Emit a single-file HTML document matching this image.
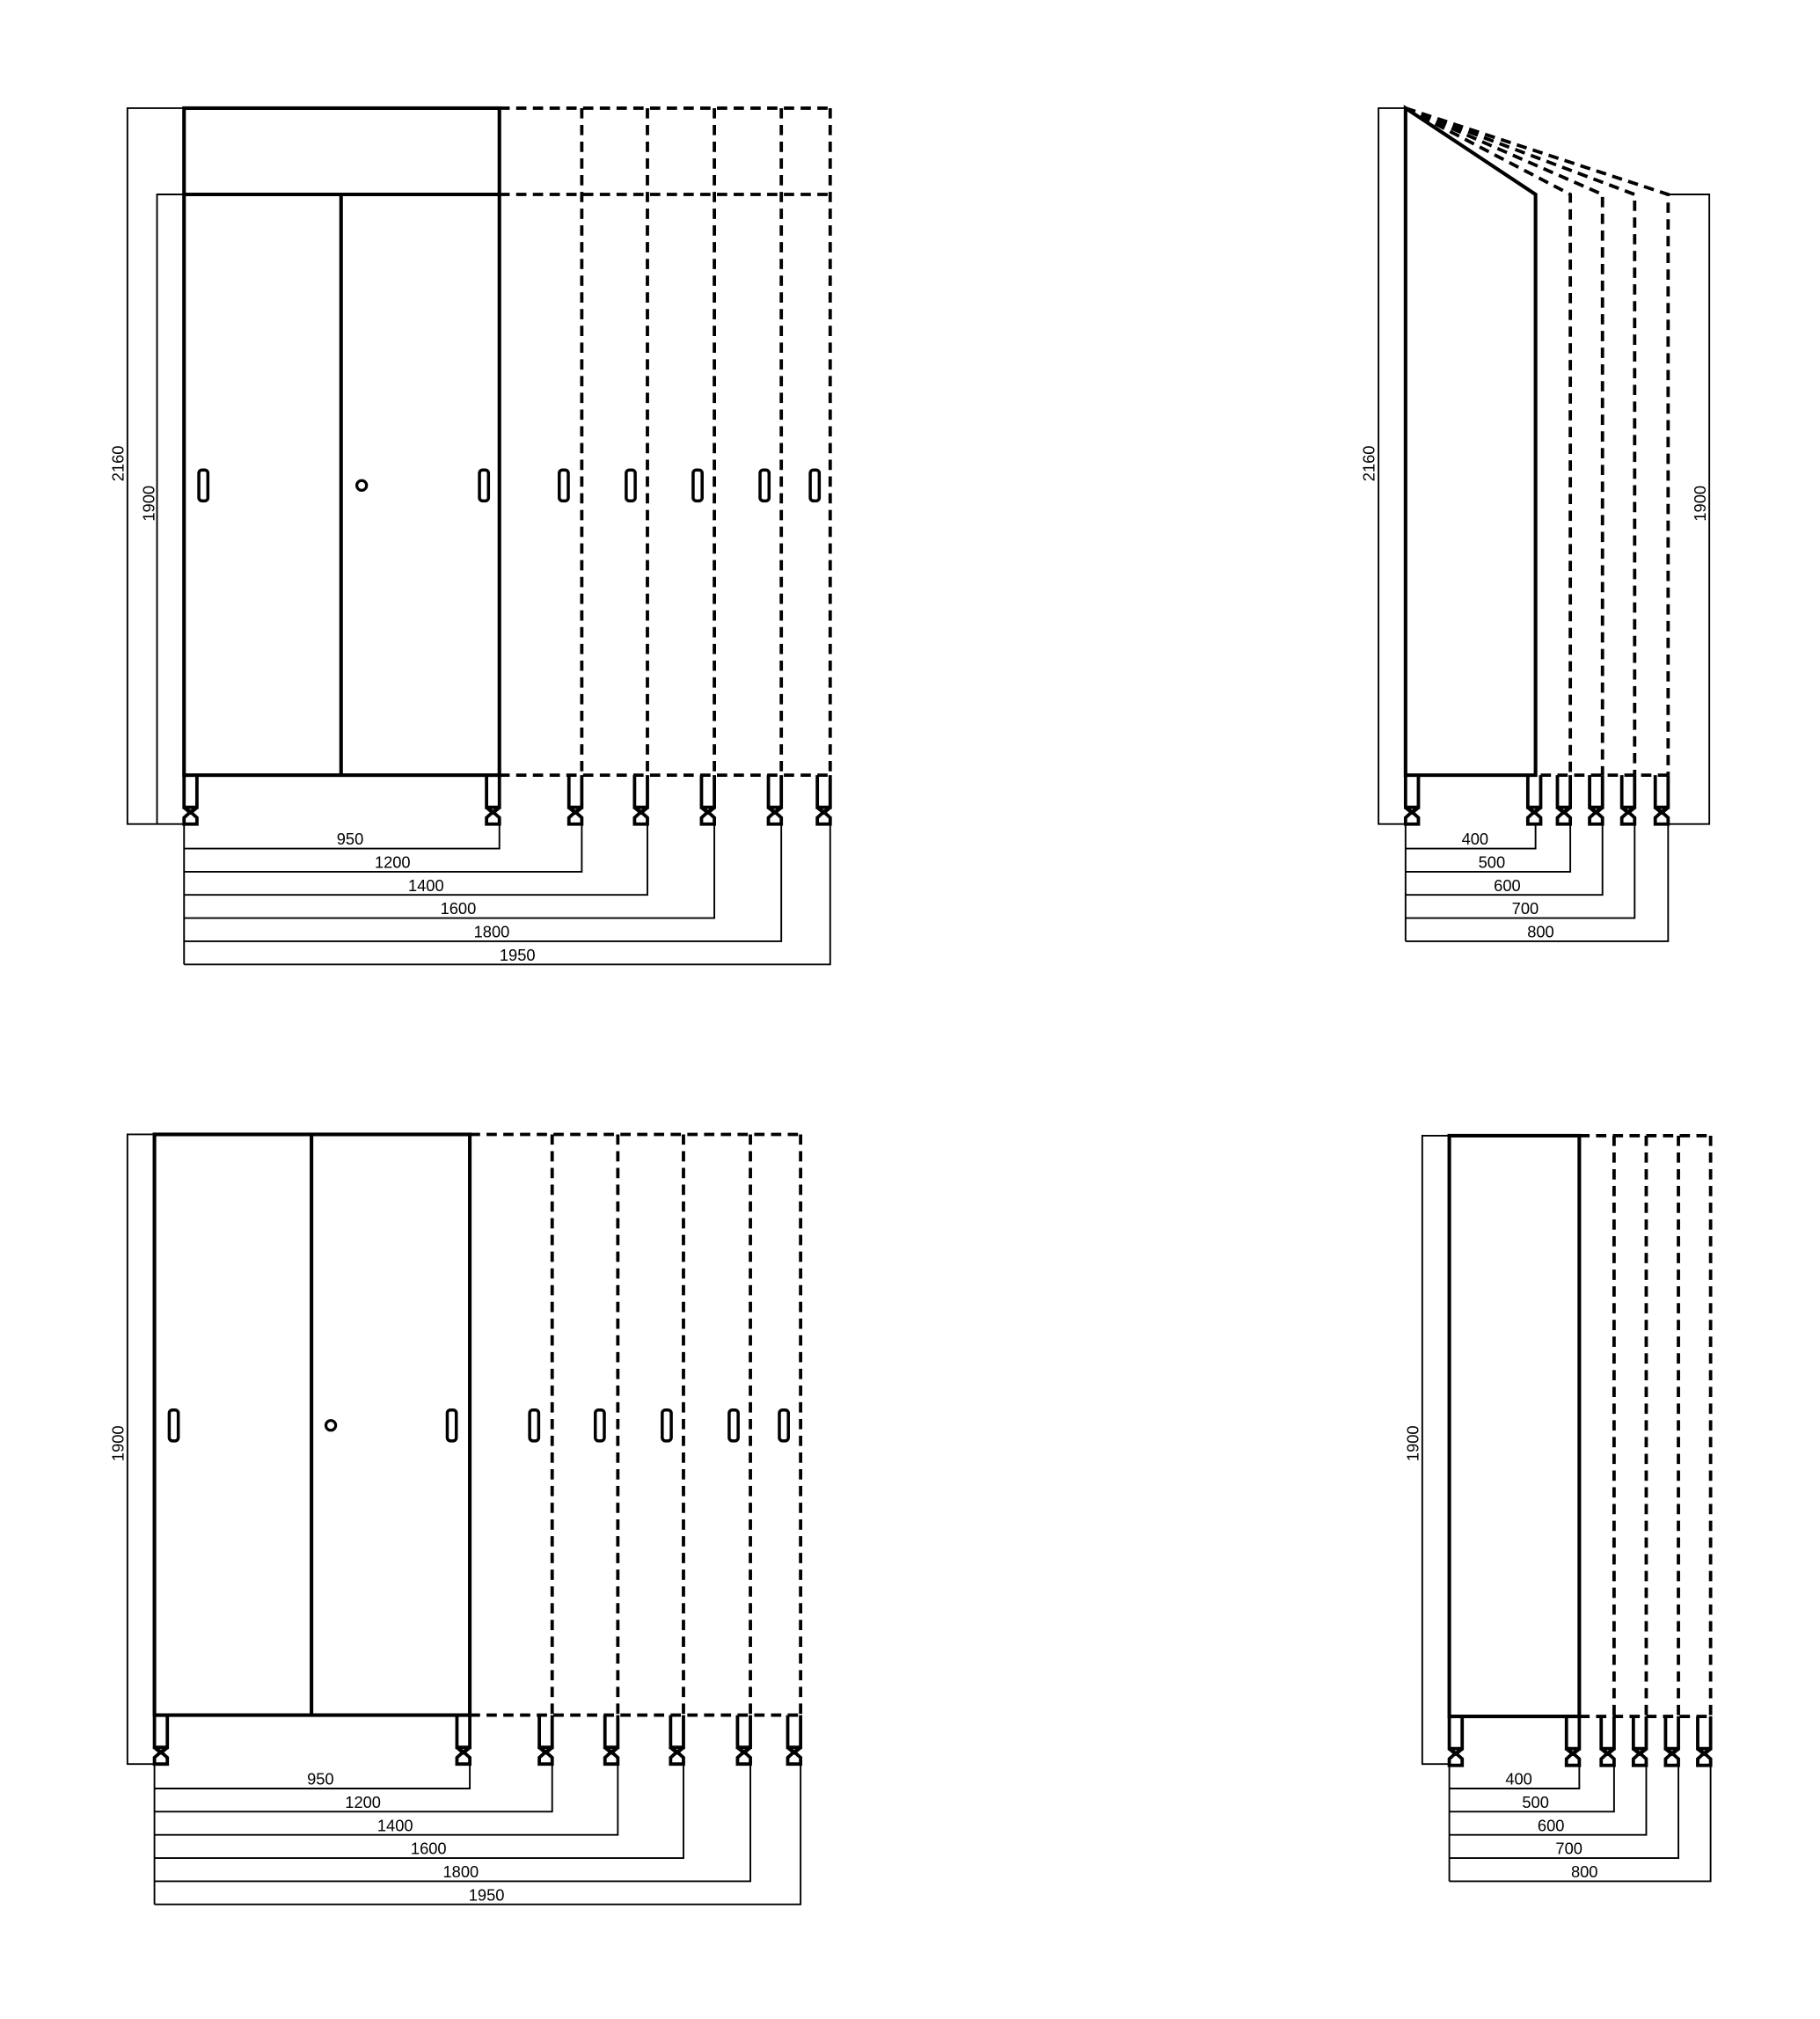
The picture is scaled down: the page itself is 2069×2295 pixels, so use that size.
<!DOCTYPE html>
<html><head><meta charset="utf-8"><style>
html,body{margin:0;padding:0;background:#fff}
svg{display:block}
text{font-family:"Liberation Sans",sans-serif;font-size:12.5px;fill:#000}
</style></head><body>
<svg width="2069" height="2295" viewBox="0 0 1414 1568" preserveAspectRatio="none" xmlns="http://www.w3.org/2000/svg">
<defs>
<g id="f" fill="none" stroke="#000" stroke-width="2.6">
<path d="M0,0 V25 H10 V0"/>
<path d="M0,25 L5,29 L10,25" stroke-width="3"/>
<path d="M0,38 V33 L5,28.5 L10,33 V38 Z"/>
</g>
<rect id="h" x="-3.5" y="-12" width="7" height="24" rx="2.5" fill="none" stroke="#000" stroke-width="2.4"/>
</defs>

<!-- ===== TOP LEFT ===== -->
<g fill="none" stroke="#000">
<g stroke-width="1.3">
<path d="M143,84 H99 V640 H143"/>
<path d="M143,151 H122 V640"/>
<path d="M143,640 V749"/>
<path d="M143,659 H388 V640"/>
<path d="M143,677 H452 V640"/>
<path d="M143,695 H503 V640"/>
<path d="M143,713 H555 V640"/>
<path d="M143,731 H607 V640"/>
<path d="M143,749 H645 V640"/>
</g>
<g stroke-width="2.8">
<rect x="143" y="84" width="245" height="518"/>
<path d="M143,151 H388 M265,151 V602"/>
</g>
<g stroke-width="2.6" stroke-dasharray="8,5">
<path d="M388,84 H645 M388,151 H645 M388,602 H645"/>
<path d="M452,84 V602 M503,84 V602 M555,84 V602 M607,84 V602 M645,84 V602"/>
</g>
<circle cx="281" cy="377" r="3.8" stroke-width="2.2"/>
</g>
<use href="#h" x="158" y="377"/><use href="#h" x="376" y="377"/><use href="#h" x="438" y="377"/><use href="#h" x="490" y="377"/><use href="#h" x="542" y="377"/><use href="#h" x="594" y="377"/><use href="#h" x="633" y="377"/>
<use href="#f" x="143" y="602"/><use href="#f" x="378" y="602"/><use href="#f" x="442" y="602"/><use href="#f" x="493" y="602"/><use href="#f" x="545" y="602"/><use href="#f" x="597" y="602"/><use href="#f" x="635" y="602"/>
<text x="272" y="656" text-anchor="middle">950</text>
<text x="305" y="674" text-anchor="middle">1200</text>
<text x="331" y="692" text-anchor="middle">1400</text>
<text x="356" y="710" text-anchor="middle">1600</text>
<text x="382" y="728" text-anchor="middle">1800</text>
<text x="402" y="746" text-anchor="middle">1950</text>
<text transform="translate(96,360) rotate(-90)" text-anchor="middle">2160</text>
<text transform="translate(120,391) rotate(-90)" text-anchor="middle">1900</text>

<!-- ===== TOP RIGHT ===== -->
<g fill="none" stroke="#000">
<g stroke-width="1.3">
<path d="M1092,84 H1071 V640 H1092"/>
<path d="M1296,151 H1328 V640 H1296"/>
<path d="M1092,640 V731"/>
<path d="M1092,659 H1193 V640"/>
<path d="M1092,677 H1220 V640"/>
<path d="M1092,695 H1245 V640"/>
<path d="M1092,713 H1270 V640"/>
<path d="M1092,731 H1296 V640"/>
</g>
<path d="M1092,602 V84 L1193,151 V602 Z" stroke-width="2.8"/>
<g stroke-width="2.6" stroke-dasharray="8,5">
<path d="M1092,84 L1220,151 V602 M1092,84 L1245,151 V602 M1092,84 L1270,151 V602 M1092,84 L1296,151 V602"/>
<path d="M1197,602 H1296"/>
</g>
</g>
<use href="#f" x="1092" y="602"/><use href="#f" x="1187" y="602"/><use href="#f" x="1210" y="602"/><use href="#f" x="1235" y="602"/><use href="#f" x="1260" y="602"/><use href="#f" x="1286" y="602"/>
<text x="1146" y="656" text-anchor="middle">400</text>
<text x="1159" y="674" text-anchor="middle">500</text>
<text x="1171" y="692" text-anchor="middle">600</text>
<text x="1185" y="710" text-anchor="middle">700</text>
<text x="1197" y="728" text-anchor="middle">800</text>
<text transform="translate(1068,360) rotate(-90)" text-anchor="middle">2160</text>
<text transform="translate(1325,391) rotate(-90)" text-anchor="middle">1900</text>

<!-- ===== BOTTOM LEFT ===== -->
<g fill="none" stroke="#000">
<g stroke-width="1.3">
<path d="M120,881 H99 V1370 H120"/>
<path d="M120,1370 V1479"/>
<path d="M120,1389 H365 V1370"/>
<path d="M120,1407 H429 V1370"/>
<path d="M120,1425 H480 V1370"/>
<path d="M120,1443 H531 V1370"/>
<path d="M120,1461 H583 V1370"/>
<path d="M120,1479 H622 V1370"/>
</g>
<g stroke-width="2.8">
<rect x="120" y="881" width="245" height="451"/>
<path d="M242,881 V1332"/>
</g>
<g stroke-width="2.6" stroke-dasharray="8,5">
<path d="M365,881 H622 M365,1332 H622"/>
<path d="M429,881 V1332 M480,881 V1332 M531,881 V1332 M583,881 V1332 M622,881 V1332"/>
</g>
<circle cx="257" cy="1107" r="3.8" stroke-width="2.2"/>
</g>
<use href="#h" x="135" y="1107"/><use href="#h" x="351" y="1107"/><use href="#h" x="415" y="1107"/><use href="#h" x="466" y="1107"/><use href="#h" x="518" y="1107"/><use href="#h" x="570" y="1107"/><use href="#h" x="609" y="1107"/>
<use href="#f" x="120" y="1332"/><use href="#f" x="355" y="1332"/><use href="#f" x="419" y="1332"/><use href="#f" x="470" y="1332"/><use href="#f" x="521" y="1332"/><use href="#f" x="573" y="1332"/><use href="#f" x="612" y="1332"/>
<text x="249" y="1386" text-anchor="middle">950</text>
<text x="282" y="1404" text-anchor="middle">1200</text>
<text x="307" y="1422" text-anchor="middle">1400</text>
<text x="333" y="1440" text-anchor="middle">1600</text>
<text x="358" y="1458" text-anchor="middle">1800</text>
<text x="378" y="1476" text-anchor="middle">1950</text>
<text transform="translate(96,1121) rotate(-90)" text-anchor="middle">1900</text>

<!-- ===== BOTTOM RIGHT ===== -->
<g fill="none" stroke="#000">
<g stroke-width="1.3">
<path d="M1126,882 H1105 V1370 H1126"/>
<path d="M1126,1370 V1461"/>
<path d="M1126,1389 H1227 V1370"/>
<path d="M1126,1407 H1254 V1370"/>
<path d="M1126,1425 H1279 V1370"/>
<path d="M1126,1443 H1304 V1370"/>
<path d="M1126,1461 H1329 V1370"/>
</g>
<rect x="1126" y="882" width="101" height="451" stroke-width="2.8"/>
<g stroke-width="2.6" stroke-dasharray="8,5">
<path d="M1227,882 H1329 M1227,1333 H1329"/>
<path d="M1254,882 V1333 M1279,882 V1333 M1304,882 V1333 M1329,882 V1333"/>
</g>
</g>
<use href="#f" x="1126" y="1333"/><use href="#f" x="1217" y="1333"/><use href="#f" x="1244" y="1333"/><use href="#f" x="1269" y="1333"/><use href="#f" x="1294" y="1333"/><use href="#f" x="1319" y="1333"/>
<text x="1180" y="1386" text-anchor="middle">400</text>
<text x="1193" y="1404" text-anchor="middle">500</text>
<text x="1205" y="1422" text-anchor="middle">600</text>
<text x="1219" y="1440" text-anchor="middle">700</text>
<text x="1231" y="1458" text-anchor="middle">800</text>
<text transform="translate(1102,1121) rotate(-90)" text-anchor="middle">1900</text>
</svg>
</body></html>
